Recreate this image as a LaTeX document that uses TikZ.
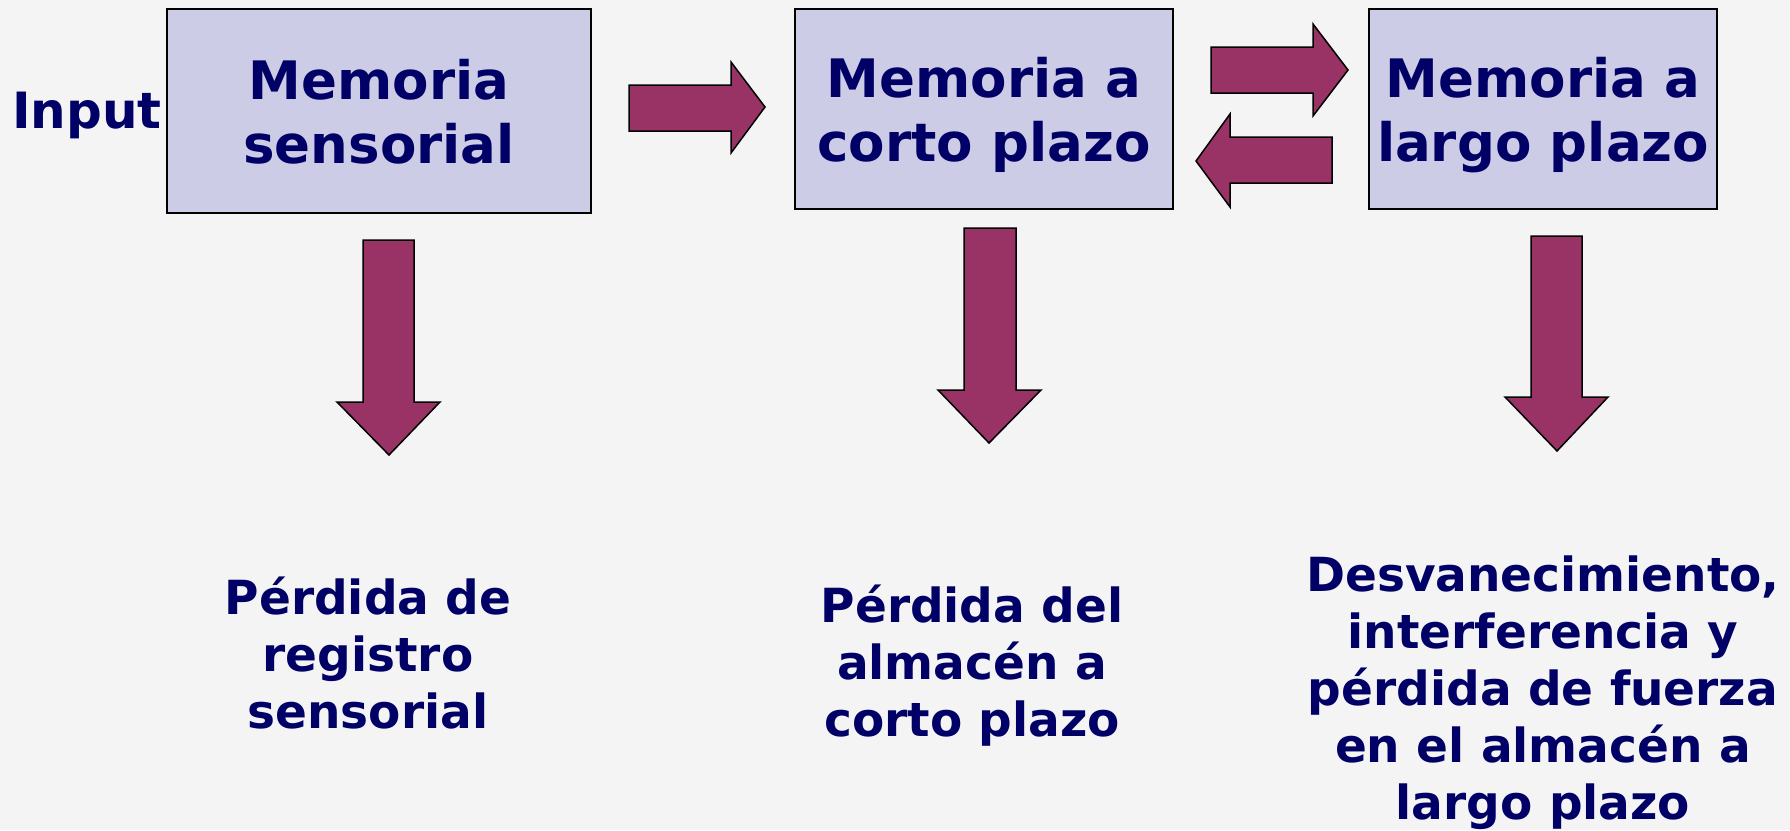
\documentclass[tikz,border=0pt]{standalone}
\usepackage{fontspec}
\setmainfont{DejaVu Sans}
\definecolor{fondo}{RGB}{244,244,244}
\definecolor{lila}{RGB}{204,204,230}
\definecolor{vino}{RGB}{153,51,102}
\definecolor{azul}{RGB}{0,0,102}
\tikzset{
  caja/.style={draw=black, line width=1.5pt, fill=lila, text=azul, align=center,
    font=\fontsize{53}{64}\selectfont\bfseries, text depth=0pt},
  flecha/.style={draw=black, line width=1.5pt, fill=vino, line join=miter},
  texto/.style={text=azul, align=center, font=\fontsize{47}{57}\selectfont\bfseries,
    anchor=base, inner sep=0pt},
}
\begin{document}
\begin{tikzpicture}[x=1pt,y=-1pt]
\fill[fondo] (0,0) rectangle (1790,830);
\useasboundingbox (0,0) rectangle (1790,830);
% cajas
\node[caja, minimum width=424pt, minimum height=204pt] (sens) at (379,111) {Memoria\\sensorial};
\node[caja, minimum width=378pt, minimum height=200pt] (corto) at (984,109) {Memoria a\\corto plazo};
\node[caja, minimum width=348pt, minimum height=200pt] (largo) at (1543,109) {Memoria a\\largo plazo};
\node[text=azul, font=\fontsize{50}{57}\selectfont\bfseries, anchor=base, inner sep=0pt] (input) at (87,128) {Input};
% flechas horizontales
\draw[flecha] (629,85) -- (731,85) -- (731,62) -- (765,107) -- (731,153) -- (731,131) -- (629,131) -- cycle;
\draw[flecha] (1211,47) -- (1313,47) -- (1313,24) -- (1348,70) -- (1313,116) -- (1313,93) -- (1211,93) -- cycle;
\draw[flecha] (1332,137) -- (1230,137) -- (1230,114) -- (1196,161) -- (1230,207) -- (1230,183) -- (1332,183) -- cycle;
% flechas hacia abajo
\draw[flecha] (363,240) -- (414,240) -- (414,402) -- (440,402) -- (389,455) -- (337,402) -- (363,402) -- cycle;
\draw[flecha] (964,228) -- (1016,228) -- (1016,390) -- (1041,390) -- (989,443) -- (938,390) -- (964,390) -- cycle;
\draw[flecha] (1531,236) -- (1582,236) -- (1582,397) -- (1608,397) -- (1557,451) -- (1505,397) -- (1531,397) -- cycle;
% textos de abajo
\node[texto] (perd1) at (368,728) {Pérdida de\\registro\\sensorial};
\node[texto] (perd2) at (972,736) {Pérdida del\\almacén a\\corto plazo};
\node[texto] (perd3) at (1543,819) {Desvanecimiento,\\interferencia y\\pérdida de fuerza\\en el almacén a\\largo plazo};
\end{tikzpicture}
\end{document}
